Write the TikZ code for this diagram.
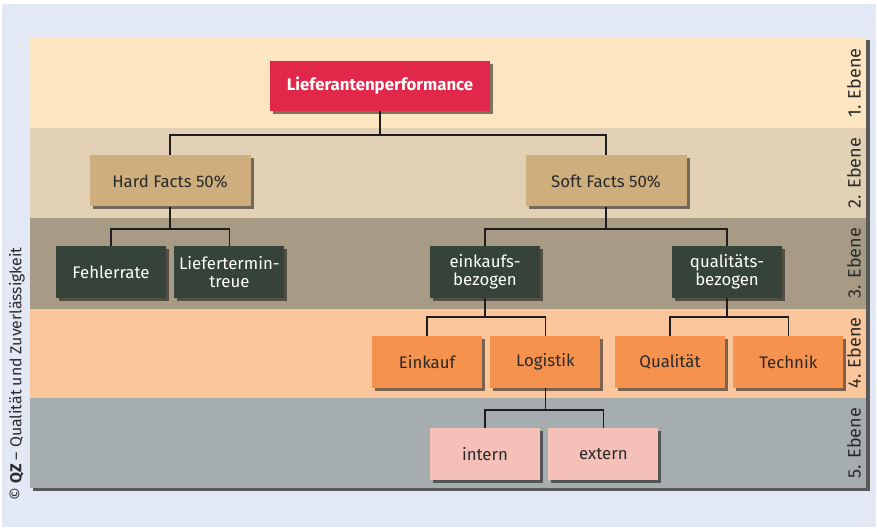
\documentclass[tikz,border=0pt]{standalone}
\usepackage{fontspec}
\setmainfont{Fira Sans}
\usetikzlibrary{positioning, shadows}

\definecolor{pagebg}{HTML}{E2E8F4}
\definecolor{bandone}{HTML}{FDE5C1}
\definecolor{bandtwo}{HTML}{E3D1B6}
\definecolor{bandthree}{HTML}{A89B86}
\definecolor{bandfour}{HTML}{FBC69C}
\definecolor{bandfive}{HTML}{A6ADAE}
\definecolor{lpred}{HTML}{E2284A}
\definecolor{facttan}{HTML}{CFAE7E}
\definecolor{critgreen}{HTML}{364338}
\definecolor{suborange}{HTML}{F5924E}
\definecolor{leafpink}{HTML}{F5C0B8}
\definecolor{textdark}{HTML}{2A2A2A}
\definecolor{linedark}{HTML}{1E1E1E}

\tikzset{
  box/.style={rectangle, minimum width=110pt, minimum height=52pt, inner sep=2pt,
    align=center, font=\fontsize{16.8}{18}\selectfont,
    drop shadow={shadow xshift=3pt, shadow yshift=-3pt, opacity=0.5, fill=black}},
  lpbox/.style={box, fill=lpred, text=white, minimum width=220pt, minimum height=50pt,
    font=\fontsize{16.8}{18}\selectfont\bfseries},
  fact/.style={box, fill=facttan, text=textdark, minimum width=161pt, minimum height=51pt},
  crit/.style={box, fill=critgreen, text=white},
  sub/.style={box, fill=suborange, text=textdark},
  leaf/.style={box, fill=leafpink, text=textdark},
  conn/.style={draw=linedark, line width=1.8pt},
  ebene/.style={rotate=90, font=\fontsize{18}{20}\selectfont, text=textdark},
}

\begin{document}
\begin{tikzpicture}[x=1pt, y=-1pt]
  \useasboundingbox (0,0) rectangle (877,529);
  \fill[white] (0,0) rectangle (877,529);
  \fill[pagebg] (2,4) rectangle (876,527);

  % panel with its bands
  \fill[black!65] (33,40) rectangle (870,491);
  \fill[bandone] (30,37) rectangle (866,128);
  \fill[bandtwo] (30,128) rectangle (866,218);
  \fill[bandthree] (30,218) rectangle (866,309);
  \fill[bandfour] (30,309) rectangle (866,398);
  \fill[bandfive] (30,398) rectangle (866,488);

  \node[ebene] (e1) at (854,83) {1. Ebene};
  \node[ebene] (e2) at (854,173) {2. Ebene};
  \node[ebene] (e3) at (854,263) {3. Ebene};
  \node[ebene] (e4) at (854,353) {4. Ebene};
  \node[ebene] (e5) at (854,443) {5. Ebene};

  \node[rotate=90, anchor=west, font=\fontsize{15.8}{17}\selectfont, text=textdark] (copy)
    at (17,504) {© \textbf{QZ} – Qualität und Zuverlässigkeit};

  % tree
  \node[lpbox] (lp) at (380,86) {Lieferantenperformance};
  \node[fact] (hard) at (170,181) {Hard Facts 50\%};
  \node[fact] (soft) at (606,181) {Soft Facts 50\%};
  \node[crit] (fehler) at (111,272) {Fehlerrate};
  \node[crit, right=8pt of fehler] (termin) {Liefertermin-\\treue};
  \node[crit] (einkb) at (485,272) {einkaufs-\\bezogen};
  \node[crit] (qualb) at (727,272) {qualitäts-\\bezogen};
  \node[sub] (einkauf) at (427,362) {Einkauf};
  \node[sub, right=8pt of einkauf] (logistik) {Logistik};
  \node[sub] (qualitaet) at (670,362) {Qualität};
  \node[sub, right=8pt of qualitaet] (technik) {Technik};
  \node[leaf] (intern) at (485,454) {intern};
  \node[leaf, right=8pt of intern] (extern) {extern};

  \draw[conn] (lp.south) -- ++(0,24) coordinate (j1) -| (hard.north) (j1) -| (soft.north);
  \draw[conn] (hard.south) -- ++(0,22) coordinate (j2) -| (fehler.north) (j2) -| (termin.north);
  \draw[conn] (soft.south) -- ++(0,22) coordinate (j3) -| (einkb.north) (j3) -| (qualb.north);
  \draw[conn] (einkb.south) -- ++(0,19) coordinate (j4) -| (einkauf.north) (j4) -| (logistik.north);
  \draw[conn] (qualb.south) -- ++(0,19) coordinate (j5) -| (qualitaet.north) (j5) -| (technik.north);
  \draw[conn] (logistik.south) -- ++(0,22) coordinate (j6) -| (intern.north) (j6) -| (extern.north);
\end{tikzpicture}
\end{document}
